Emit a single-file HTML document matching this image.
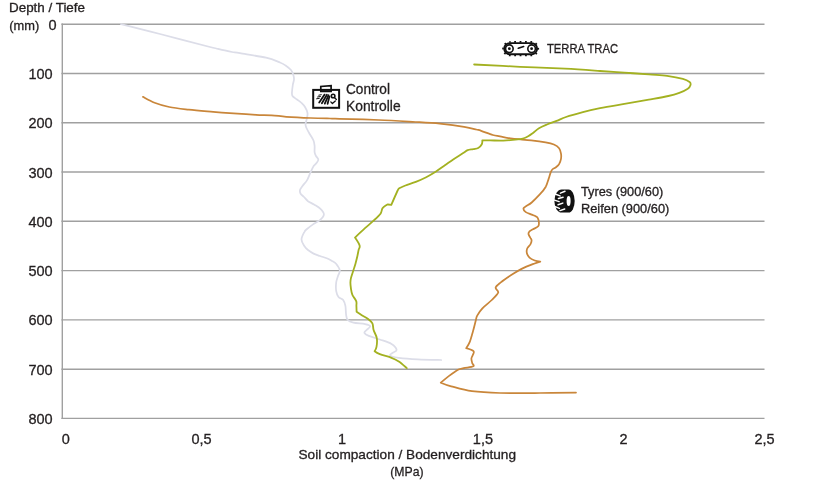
<!DOCTYPE html>
<html><head><meta charset="utf-8"><style>
html,body{margin:0;padding:0;background:#fff;}
svg{display:block;will-change:transform;}
.g{stroke:#a0a0a0;stroke-width:1.4;fill:none;}
.c{fill:none;stroke-width:1.75;stroke-linejoin:round;stroke-linecap:round;}
text{font-family:"Liberation Sans",sans-serif;fill:#231f20;stroke:#231f20;stroke-width:0.3px;}
</style></head><body>
<svg width="820" height="481" viewBox="0 0 820 481">
<line x1="61.4" y1="24.2" x2="764.5" y2="24.2" class="g"/>
<line x1="61.4" y1="73.5" x2="764.5" y2="73.5" class="g"/>
<line x1="61.4" y1="122.8" x2="764.5" y2="122.8" class="g"/>
<line x1="61.4" y1="172.0" x2="764.5" y2="172.0" class="g"/>
<line x1="61.4" y1="221.3" x2="764.5" y2="221.3" class="g"/>
<line x1="61.4" y1="270.6" x2="764.5" y2="270.6" class="g"/>
<line x1="61.4" y1="319.9" x2="764.5" y2="319.9" class="g"/>
<line x1="61.4" y1="369.2" x2="764.5" y2="369.2" class="g"/>
<line x1="61.4" y1="418.4" x2="764.5" y2="418.4" class="g"/>
<line x1="62.3" y1="23.6" x2="62.3" y2="419.0" class="g"/>
<path d="M121.0 24.1 C127.5 25.8 145.2 30.2 160.0 34.0 C174.8 37.8 200.0 44.5 210.0 47.0 C220.0 49.5 216.3 48.5 220.0 49.3 C223.7 50.1 228.7 51.4 232.0 52.0 C235.3 52.6 234.3 52.2 240.0 53.2 C245.7 54.2 259.3 56.2 266.0 57.7 C272.7 59.2 276.7 61.2 280.0 62.5 C283.3 63.8 283.8 64.2 285.6 65.5 C287.4 66.8 289.7 68.5 291.0 70.0 C292.3 71.5 292.7 72.9 293.2 74.5 C293.7 76.1 294.1 77.8 294.0 79.5 C293.9 81.2 293.1 82.9 292.8 85.0 C292.5 87.1 292.1 90.2 292.0 92.0 C291.9 93.8 291.7 94.8 292.5 96.0 C293.3 97.2 295.6 98.4 297.0 99.5 C298.4 100.6 299.7 101.2 301.0 102.5 C302.3 103.8 303.9 105.2 305.0 107.0 C306.1 108.8 307.2 111.2 307.5 113.0 C307.8 114.8 307.3 116.2 307.0 118.0 C306.7 119.8 305.6 122.3 305.5 124.0 C305.4 125.7 305.8 126.3 306.5 128.0 C307.2 129.7 308.7 132.2 309.9 134.3 C311.1 136.4 312.7 138.6 313.5 140.5 C314.3 142.4 314.4 144.1 314.6 146.0 C314.8 147.9 314.4 150.4 314.6 152.1 C314.8 153.8 315.4 154.8 316.0 156.0 C316.6 157.2 318.2 158.3 318.3 159.5 C318.4 160.7 317.3 161.9 316.5 163.0 C315.7 164.1 314.6 164.7 313.6 166.1 C312.7 167.5 311.9 169.4 310.8 171.7 C309.7 174.0 308.5 177.7 307.1 180.1 C305.7 182.5 303.7 184.3 302.5 186.0 C301.3 187.7 300.3 188.7 300.0 190.0 C299.7 191.3 299.9 192.5 300.6 193.7 C301.3 194.9 302.8 195.8 304.0 197.0 C305.2 198.2 306.3 199.9 308.0 201.2 C309.7 202.4 312.0 203.2 314.0 204.5 C316.0 205.8 318.6 207.1 320.2 208.7 C321.8 210.3 323.9 212.4 323.9 214.3 C323.9 216.2 322.1 218.2 320.2 219.9 C318.3 221.6 314.9 223.1 312.7 224.6 C310.5 226.1 308.4 227.8 307.0 229.0 C305.6 230.2 305.2 230.3 304.3 232.1 C303.4 233.8 301.5 237.2 301.5 239.5 C301.5 241.8 303.2 244.3 304.3 246.1 C305.4 247.8 306.4 248.8 308.0 250.0 C309.6 251.2 311.6 252.6 313.6 253.6 C315.6 254.6 317.8 255.2 320.0 256.0 C322.2 256.8 324.7 257.4 326.7 258.2 C328.7 259.0 330.4 260.1 332.0 261.0 C333.6 261.9 334.8 262.2 336.1 263.8 C337.4 265.4 339.5 268.4 339.8 270.4 C340.1 272.4 338.6 274.0 338.0 276.0 C337.4 278.0 336.5 279.9 336.2 282.4 C335.9 284.9 335.8 288.8 336.2 291.2 C336.6 293.6 337.3 295.5 338.5 297.0 C339.7 298.5 342.1 298.5 343.2 300.0 C344.3 301.5 344.9 303.5 345.4 305.9 C345.9 308.3 345.7 312.3 346.1 314.6 C346.5 316.9 346.4 318.5 347.6 319.8 C348.8 321.1 350.5 322.0 353.4 322.7 C356.3 323.4 362.3 323.5 365.1 324.1 C367.9 324.7 369.9 325.3 370.2 326.3 C370.4 327.3 367.6 328.9 366.6 330.0 C365.6 331.1 364.0 331.9 364.4 332.9 C364.8 333.9 366.2 334.8 368.8 335.9 C371.4 337.0 376.0 338.2 379.8 339.5 C383.6 340.8 388.7 342.2 391.5 343.9 C394.3 345.6 396.4 348.3 396.6 349.8 C396.8 351.3 394.0 351.9 392.9 352.7 C391.8 353.5 390.1 354.3 390.0 354.9 C389.9 355.5 390.5 356.0 392.0 356.5 C393.5 357.0 394.5 357.3 398.8 357.8 C403.1 358.3 410.7 358.9 417.8 359.3 C424.9 359.7 437.3 359.9 441.2 360.0" class="c" stroke="#dcdde8"/>
<path d="M142.9 96.8 C144.8 97.8 150.2 101.0 154.6 102.7 C159.0 104.4 163.6 105.8 169.3 107.0 C175.0 108.2 181.5 108.8 188.8 109.6 C196.1 110.4 205.1 111.1 213.2 111.8 C221.3 112.5 230.5 113.2 237.6 113.7 C244.7 114.2 250.3 114.5 256.0 114.8 C261.7 115.1 266.6 115.0 271.7 115.3 C276.8 115.6 279.8 116.3 286.3 116.8 C292.8 117.2 303.4 117.7 310.7 118.0 C318.0 118.3 325.2 118.4 330.0 118.5 C334.8 118.6 331.4 118.5 339.5 118.8 C347.6 119.0 366.2 119.5 378.8 120.0 C391.4 120.5 405.2 121.4 415.4 122.0 C425.6 122.6 431.7 122.9 439.8 123.7 C447.9 124.5 458.0 125.8 464.1 126.8 C470.2 127.8 473.4 128.8 476.2 129.5 C479.0 130.2 478.4 129.9 481.2 130.8 C484.0 131.7 489.7 134.1 492.8 135.0 C495.9 135.9 496.7 135.8 500.0 136.4 C503.3 137.0 507.3 138.0 512.5 138.7 C517.7 139.3 525.7 139.7 531.2 140.3 C536.7 140.9 541.8 141.6 545.6 142.3 C549.4 143.0 551.6 143.5 553.9 144.5 C556.1 145.5 557.9 146.7 559.1 148.2 C560.3 149.7 560.7 151.9 561.0 153.7 C561.3 155.5 561.3 157.2 561.0 158.9 C560.7 160.6 559.9 162.7 559.1 164.1 C558.3 165.5 557.1 166.3 556.0 167.2 C554.9 168.1 553.2 168.6 552.3 169.5 C551.4 170.4 551.2 171.1 550.6 172.6 C550.0 174.1 549.5 176.2 548.7 178.6 C547.9 180.9 547.2 184.1 545.8 186.7 C544.3 189.3 542.4 191.6 540.0 194.2 C537.6 196.8 534.1 200.4 531.7 202.5 C529.3 204.6 526.9 205.5 525.5 206.6 C524.1 207.7 523.4 207.9 523.4 208.8 C523.4 209.7 524.4 211.1 525.8 212.1 C527.2 213.1 530.1 213.9 531.7 214.6 C533.3 215.3 534.6 215.7 535.6 216.3 C536.6 216.9 537.2 217.1 537.8 218.1 C538.3 219.1 538.8 220.9 538.9 222.3 C539.0 223.7 539.2 225.1 538.2 226.3 C537.2 227.5 534.5 228.4 533.0 229.3 C531.5 230.2 530.0 230.8 529.3 231.6 C528.5 232.4 528.4 233.2 528.5 234.2 C528.6 235.2 529.7 236.4 530.2 237.5 C530.7 238.6 531.6 239.4 531.6 240.5 C531.6 241.6 531.1 243.0 530.4 244.3 C529.7 245.6 527.8 247.0 527.2 248.5 C526.6 250.0 526.5 251.7 526.9 253.2 C527.3 254.7 528.2 256.4 529.5 257.6 C530.8 258.8 532.9 259.8 534.7 260.5 C536.5 261.2 540.3 261.6 540.3 261.6 C540.3 261.6 537.1 262.5 534.0 263.7 C530.9 264.9 525.4 267.0 521.6 268.9 C517.8 270.8 514.7 272.9 511.2 275.1 C507.7 277.4 503.4 280.3 500.8 282.4 C498.2 284.5 496.0 285.9 495.6 287.6 C495.2 289.3 498.8 290.5 498.2 292.6 C497.6 294.7 494.4 297.4 491.8 300.0 C489.2 302.6 484.8 305.7 482.4 308.3 C480.0 310.9 478.3 313.5 477.2 315.6 C476.1 317.7 476.4 318.2 475.7 320.8 C475.0 323.4 474.0 327.7 473.0 331.2 C472.0 334.7 471.0 338.8 469.9 341.6 C468.8 344.4 466.2 348.2 466.2 348.2 C466.2 348.2 472.4 350.1 473.5 351.2 C474.6 352.3 473.2 353.8 472.8 355.0 C472.4 356.2 471.5 357.2 471.4 358.5 C471.3 359.8 471.9 361.7 472.2 363.0 C472.5 364.3 474.7 365.4 473.3 366.3 C471.9 367.2 466.2 367.6 463.7 368.2 C461.2 368.8 460.9 368.3 458.5 369.6 C456.1 370.9 452.1 373.7 449.1 375.9 C446.2 378.1 440.8 382.7 440.8 382.7 C440.8 382.7 446.0 384.9 451.2 386.3 C456.4 387.7 463.9 390.1 472.0 391.2 C480.1 392.3 488.7 392.7 500.0 393.0 C511.3 393.3 527.3 393.1 540.0 393.0 C552.7 392.9 570.0 392.7 576.0 392.6" class="c" stroke="#c9863a"/>
<path d="M474.1 64.5 C481.8 64.9 504.9 66.1 520.0 66.8 C535.1 67.5 551.7 68.0 565.0 68.7 C578.3 69.4 590.1 70.3 600.0 71.0 C609.9 71.7 616.3 72.0 624.4 72.6 C632.5 73.2 641.7 73.9 648.8 74.4 C655.9 75.0 661.4 75.2 667.1 75.9 C672.8 76.7 679.1 77.9 682.9 78.9 C686.6 79.9 688.3 81.0 689.6 82.0 C690.9 83.0 690.8 83.9 690.5 85.0 C690.2 86.1 689.7 87.4 687.8 88.7 C685.9 90.0 682.5 91.7 679.3 92.9 C676.0 94.1 673.4 94.9 668.3 96.0 C663.2 97.1 656.1 98.3 648.8 99.6 C641.5 100.9 632.5 102.5 624.4 103.9 C616.3 105.3 606.9 106.8 600.0 108.2 C593.1 109.6 588.6 110.6 582.9 112.1 C577.2 113.6 570.4 115.5 566.0 117.0 C561.6 118.5 559.8 119.7 556.6 120.9 C553.4 122.2 549.9 123.3 547.0 124.5 C544.1 125.7 541.3 126.8 539.0 128.2 C536.7 129.6 534.8 131.7 533.0 133.0 C531.2 134.3 529.9 135.3 528.2 136.2 C526.5 137.1 524.7 138.0 523.0 138.5 C521.3 139.0 521.1 139.1 517.8 139.4 C514.5 139.8 507.8 140.4 503.2 140.6 C498.6 140.8 493.5 140.4 490.0 140.4 C486.5 140.4 482.3 140.3 482.3 140.3 C482.3 140.3 482.5 142.9 481.8 144.2 C481.1 145.5 479.6 147.2 478.2 148.0 C476.8 148.8 474.9 148.7 473.2 149.1 C471.4 149.5 469.3 149.6 467.7 150.2 C466.1 150.8 466.0 151.2 463.6 152.8 C461.2 154.4 456.3 157.4 453.2 159.5 C450.1 161.6 447.8 163.3 444.9 165.3 C442.0 167.3 439.1 169.5 436.0 171.5 C432.9 173.5 429.6 175.5 426.2 177.2 C422.8 178.9 419.3 180.5 415.8 181.9 C412.3 183.3 408.1 184.4 405.4 185.5 C402.6 186.6 399.3 188.2 399.3 188.2 C399.3 188.2 398.7 188.2 397.4 191.0 C396.1 193.8 391.3 204.9 391.3 204.9 C391.3 204.9 388.8 204.5 388.0 204.5 C387.2 204.5 387.6 204.3 386.7 204.9 C385.8 205.5 383.5 206.7 382.5 208.2 C381.5 209.7 382.0 211.6 380.5 213.7 C379.0 215.8 375.9 218.5 373.3 220.9 C370.7 223.3 368.1 225.4 365.0 228.2 C361.9 231.0 355.0 237.6 355.0 237.6 C355.0 237.6 359.0 243.4 359.6 245.5 C360.2 247.6 359.0 248.2 358.6 250.0 C358.2 251.8 357.9 253.7 357.4 256.0 C356.9 258.3 356.0 261.7 355.4 264.0 C354.8 266.3 354.2 267.7 353.5 270.0 C352.8 272.3 351.5 275.8 351.0 277.9 C350.5 280.0 350.4 280.5 350.4 282.4 C350.4 284.2 350.7 286.9 351.0 289.0 C351.3 291.1 351.5 292.9 352.4 294.9 C353.3 296.9 355.5 299.2 356.2 301.1 C356.9 303.0 356.3 304.2 356.4 306.0 C356.5 307.8 356.6 311.7 356.6 311.7 C356.6 311.7 360.3 314.2 362.2 315.4 C364.1 316.6 366.4 317.7 368.1 319.0 C369.8 320.3 371.5 321.6 372.4 323.4 C373.3 325.2 372.9 327.6 373.6 330.0 C374.3 332.4 376.3 335.3 376.8 338.1 C377.3 340.9 376.9 344.6 376.5 346.8 C376.1 349.0 374.6 351.2 374.6 351.2 C374.6 351.2 377.0 353.0 379.8 354.1 C382.6 355.2 388.3 356.6 391.5 357.8 C394.7 359.0 396.2 359.8 398.8 361.5 C401.4 363.2 405.5 367.0 406.8 368.1" class="c" stroke="#a3b121" style="stroke-width:1.8"/>
<text x="9" y="12" font-size="12.4" textLength="76" lengthAdjust="spacingAndGlyphs">Depth / Tiefe</text>
<text x="9.3" y="29.6" font-size="12.4" textLength="30" lengthAdjust="spacingAndGlyphs">(mm)</text>
<text x="56.7" y="29.8" font-size="14.5" text-anchor="end">0</text>
<g font-size="14.5" text-anchor="end">
<text x="52.6" y="79.0">100</text>
<text x="52.6" y="128.3">200</text>
<text x="52.6" y="177.5">300</text>
<text x="52.6" y="226.8">400</text>
<text x="52.6" y="276.1">500</text>
<text x="52.6" y="325.4">600</text>
<text x="52.6" y="374.7">700</text>
<text x="52.6" y="423.9">800</text>
</g>
<g font-size="14.5" text-anchor="middle">
<text x="65.8" y="443.9">0</text>
<text x="201.6" y="443.9">0,5</text>
<text x="342" y="443.9">1</text>
<text x="482.9" y="443.9">1,5</text>
<text x="623.5" y="443.9">2</text>
<text x="764.5" y="443.9">2,5</text>
</g>
<text x="298.5" y="458.7" font-size="13.1" textLength="217.5" lengthAdjust="spacingAndGlyphs">Soil compaction / Bodenverdichtung</text>
<text x="390.3" y="475.6" font-size="13.2" textLength="33.3" lengthAdjust="spacingAndGlyphs">(MPa)</text>
<text x="547" y="52.8" font-size="13.4" textLength="71" lengthAdjust="spacingAndGlyphs">TERRA TRAC</text>
<text x="346" y="93.5" font-size="13.8" textLength="44" lengthAdjust="spacingAndGlyphs">Control</text>
<text x="346" y="110.8" font-size="13.8" textLength="54.6" lengthAdjust="spacingAndGlyphs">Kontrolle</text>
<text x="581" y="195.7" font-size="12.3" textLength="82.3" lengthAdjust="spacingAndGlyphs">Tyres (900/60)</text>
<text x="581" y="212.8" font-size="12.3" textLength="88.3" lengthAdjust="spacingAndGlyphs">Reifen (900/60)</text>
<g id="track" fill="none" stroke="#111">
<rect x="504.2" y="43.15" width="32.9" height="11.1" rx="5.55" stroke-width="1.9"/>
<rect x="503.0" y="41.9" width="35.3" height="13.6" rx="6.8" stroke-width="1.6" stroke-dasharray="1.8 3.6" stroke-dashoffset="1"/>
<circle cx="509.35" cy="48.7" r="3.8" stroke-width="1.6"/>
<circle cx="531.6" cy="48.7" r="3.8" stroke-width="1.6"/>
<circle cx="509.35" cy="48.7" r="1.4" fill="#111" stroke="none"/>
<circle cx="531.6" cy="48.7" r="1.4" fill="#111" stroke="none"/>
<path d="M518.3 48.2 L523.6 46.5" stroke-width="1.7" stroke-linecap="round"/>
</g>
<g id="control" fill="none" stroke="#111">
<rect x="313.2" y="89.9" width="25.9" height="17.9" stroke-width="2"/>
<path d="M320.8 91.4 L320.8 86.5 L331.1 85.7 L331.1 91.4 Z" stroke-width="1.7"/>
<g stroke-width="1.8" stroke-linecap="round">
<path d="M324.6 94.6 L319.2 102.6"/>
<path d="M326.9 94.8 L321.9 103.2"/>
<path d="M328.6 95.2 L324.8 103.6"/>
<path d="M329.4 96.6 L327.6 103.8"/>
<path d="M318.8 95.2 L321.3 94.7" stroke-width="1"/>
<path d="M317.6 97 L320.4 96.5" stroke-width="1"/>
<path d="M316.6 98.8 L319.4 98.3" stroke-width="1"/>
</g>
<circle cx="333.1" cy="96" r="1.8" stroke-width="1.6"/>
<path d="M334.4 97.6 L336.4 99.4" stroke-width="1.4" stroke-linecap="round"/>
<path d="M330.8 101.9 L332.4 103.6 L335.3 100.9" stroke-width="1.3" stroke-linecap="round" stroke-linejoin="round"/>
</g>
<g id="tyre">
<path d="M561.6 189.4 L568.5 189.4 A6.2 11.6 0 0 1 568.5 212.6 L561.6 212.6 A7.2 11.6 0 0 1 561.6 189.4 Z" fill="#111"/>
<ellipse cx="568.6" cy="201" rx="2" ry="5.1" fill="#fff"/>
<g stroke="#fff" stroke-width="1.5" stroke-linecap="round" fill="none">
<path d="M560.4 193.1 L565 191.3"/>
<path d="M554.4 193.8 L560 195.9"/>
<path d="M558.4 198.4 L563.1 197.2"/>
<path d="M553.6 199.9 L559.1 201.6"/>
<path d="M558.1 204.7 L562.8 203.1"/>
<path d="M554 206.1 L559.4 208.4"/>
<path d="M560 210.6 L564.7 209"/>
</g>
</g>

</svg>
</body></html>
